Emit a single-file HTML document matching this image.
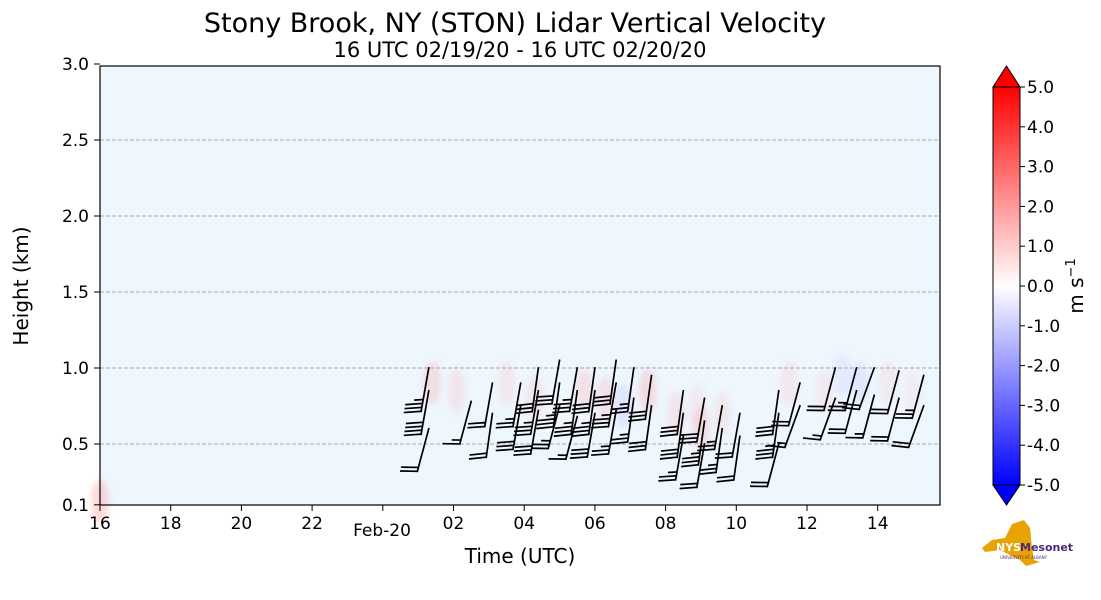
<!DOCTYPE html>
<html><head><meta charset="utf-8"><style>
html,body{margin:0;padding:0;background:#fff;}
svg{display:block;font-family:"DejaVu Sans","Liberation Sans",sans-serif;}
</style></head><body>
<svg id="chart" width="1101" height="600" viewBox="0 0 1101 600">
<defs>
<linearGradient id="cb" x1="0" y1="1" x2="0" y2="0">
<stop offset="0" stop-color="#0000ff"/><stop offset="0.5" stop-color="#ffffff"/><stop offset="1" stop-color="#ff0000"/>
</linearGradient>
<filter id="blur"><feGaussianBlur stdDeviation="3"/></filter>
</defs>
<text x="515" y="32" font-size="27" text-anchor="middle">Stony Brook, NY (STON) Lidar Vertical Velocity</text>
<text x="520" y="57" font-size="21" text-anchor="middle">16 UTC 02/19/20 - 16 UTC 02/20/20</text>
<rect x="100" y="66" width="840" height="439" fill="#eef6fe"/>
<g id="grid"></g>
<g id="cells" filter="url(#blur)"></g>
<g id="barbs" stroke="#000" stroke-width="1.7" fill="none" stroke-linecap="square"></g>
<rect x="100" y="66" width="840" height="439" fill="none" stroke="#000" stroke-width="1.2"/>
<g id="axes" font-size="17"></g>
<text x="382" y="536" font-size="17" text-anchor="middle">Feb-20</text>
<text x="520" y="563" font-size="20" text-anchor="middle">Time (UTC)</text>
<text transform="translate(28,286) rotate(-90)" font-size="20" text-anchor="middle">Height (km)</text>
<g>
<rect x="993" y="87" width="27" height="398" fill="url(#cb)"/>
<polygon points="993,87 1020,87 1006.5,66" fill="#ff0000" stroke="#000" stroke-width="1"/>
<polygon points="993,485 1020,485 1006.5,505" fill="#0000ff" stroke="#000" stroke-width="1"/>
<rect x="993" y="87" width="27" height="398" fill="none" stroke="#000" stroke-width="1"/>
</g>
<g id="cbticks" font-size="17"></g>
<text transform="translate(1083,286) rotate(-90)" font-size="20" text-anchor="middle">m s<tspan font-size="13" dy="-8">−1</tspan></text>
<g>
<polygon points="982,548 992,540 1005,538 1012,524 1024,520 1030,528 1032,548 1034,560 1040,562 1026,566 1020,560 1000,550 985,552" fill="#e8a202"/>
<text x="996" y="551" font-size="11" font-weight="bold" fill="#fff">NYS</text>
<text x="1020" y="551" font-size="11" font-weight="bold" fill="#4b2a7a">Mesonet</text>
<text x="1000" y="559" font-size="4" fill="#4b2a7a">UNIVERSITY AT ALBANY</text>
</g>
</svg>
<script>
// ---- data ----
const xTickLabels = ["16","18","20","22","","02","04","06","08","10","12","14"];
const yTickValues = [0.1,0.5,1.0,1.5,2.0,2.5,3.0];
const cbTickValues = [5,4,3,2,1,0,-1,-2,-3,-4,-5];
// barb observations: hours since 16 UTC, height km, speed kt, direction deg (from)
const obsTime   = [9.3,9.3,9.3, 10.5,11.1,11.1, 11.9,11.9,12.4,12.4,12.4, 13.0,13.0,13.0, 13.5,13.5,13.5, 14.0,14.0,14.0, 14.6,14.6,14.6, 15.1,15.1, 15.6,15.6, 16.5,16.5,16.5, 17.1,17.1,17.1, 17.6,17.6, 18.1,18.1, 19.2,19.2,19.2, 19.8,19.8, 20.8,20.8, 21.4,21.4, 21.9,21.9, 22.6,22.6, 23.3,23.3];
const obsHeight = [1.0,0.85,0.6, 0.78,0.9,0.7, 0.9,0.75,1.0,0.85,0.72, 1.05,0.9,0.75, 1.0,0.85,0.68, 1.0,0.85,0.7, 1.05,0.9,0.72, 1.0,0.8, 0.95,0.75, 0.85,0.7,0.55, 0.8,0.65,0.5, 0.75,0.6, 0.7,0.55, 0.85,0.7,0.5, 0.9,0.75, 1.0,0.8, 1.0,0.85, 1.0,0.82, 0.98,0.8, 0.95,0.75];
const obsSpeed  = [35,40,20, 15,20,20, 25,30,30,35,30, 30,35,25, 35,35,15, 30,35,30, 30,35,25, 25,25, 30,30, 30,30,25, 30,35,20, 25,25, 20,20, 30,35,20, 20,15, 20,15, 25,20, 20,15, 20,20, 25,20];
const obsDir    = [190,190,195, 195,190,188, 190,190,188,190,190, 190,188,195, 190,188,195, 188,188,190, 188,190,190, 188,188, 188,188, 188,188,190, 190,188,190, 190,188, 190,188, 188,188,195, 195,200, 195,200, 195,195, 200,195, 195,195, 195,200];
// velocity patches: time, height, value (m/s)
const cellTime   = [0.0,9.4,10.1,11.5,12.3,13.7,14.3,15.5,16.3,17.0,17.6,16.9,19.5,20.5,21.5,22.3,23.0,14.8,21.0];
const cellHeight = [0.12,0.9,0.85,0.9,0.8,0.85,0.8,0.85,0.7,0.6,0.7,0.75,0.9,0.85,0.9,0.9,0.85,0.75,0.95];
const cellValue  = [1.2,0.8,0.6,0.5,0.6,0.7,0.7,0.9,0.6,0.8,0.5,0.4,0.5,0.4,-0.5,0.4,0.3,-0.6,-0.4];
// ---- axes ----
const X0=100, PX_PER_H=35.35, Y1=368, PX_PER_KM=152;
const xs=h=>X0+h*PX_PER_H, ys=k=>Y1-(k-1)*PX_PER_KM, cbs=v=>286-v*39.8;
const NS="http://www.w3.org/2000/svg";
function mk(tag,attrs,parent){const e=document.createElementNS(NS,tag);for(const k in attrs)e.setAttribute(k,attrs[k]);parent.appendChild(e);return e;}
const grid=document.getElementById('grid'), axes=document.getElementById('axes');
yTickValues.forEach(v=>{
  const y=ys(v);
  if(v>0.1&&v<3){const l=mk('line',{x1:100,x2:940,y1:y,y2:y,stroke:'#aaa','stroke-dasharray':'4,2','stroke-width':1},grid);
  
  }
  mk('line',{x1:94,x2:100,y1:y,y2:y,stroke:'#000'},axes);
  const t=mk('text',{x:89,y:y+6,'text-anchor':'end'},axes);t.textContent=v.toFixed(1);
  
  
});
xTickLabels.forEach((s,i)=>{
  const x=xs(i*2);
  mk('line',{x1:x,x2:x,y1:505,y2:511,stroke:'#000'},axes);
  const t=mk('text',{x:x,y:529,'text-anchor':'middle'},axes);t.textContent=s;
  
  
});
const cbt=document.getElementById('cbticks');
cbTickValues.forEach(v=>{
  const y=cbs(v);
  mk('line',{x1:1020,x2:1025,y1:y,y2:y,stroke:'#000'},cbt);
  const t=mk('text',{x:1027,y:y+6},cbt);t.textContent=v.toFixed(1);
  
  
});
// ---- cells ----
const cells=document.getElementById('cells');
cellTime.forEach((h,i)=>{
  const v=cellValue[i], a=Math.min(1,Math.abs(v)/5*3);
  const c=v>0?`rgba(255,140,140,${a*0.45})`:`rgba(140,140,255,${a*0.45})`;
  const r=mk('ellipse',{cx:xs(h),cy:ys(cellHeight[i]),rx:9,ry:22,fill:c},cells);
  
  
});
// ---- barbs ----
const bg=document.getElementById('barbs');
obsTime.forEach((h,i)=>{
  const x=xs(h), y=ys(obsHeight[i]), d=obsDir[i]*Math.PI/180, L=44;
  const sx=Math.sin(d), sy=-Math.cos(d);
  const ex=x+sx*L, ey=y+sy*L;
  const px=-sy, py=sx;
  let p=`M${x},${y} L${ex},${ey}`;
  let sp=obsSpeed[i], pos=0;
  const fl=16;
  while(sp>=10){const bx=ex-sx*pos, by=ey-sy*pos;p+=` M${bx},${by} L${bx+px*fl+sx*4},${by+py*fl+sy*4}`;pos+=4;sp-=10;}
  if(sp>=5){const bx=ex-sx*pos, by=ey-sy*pos;p+=` M${bx},${by} L${bx+px*fl/2+sx*2},${by+py*fl/2+sy*2}`;}
  const b=mk('path',{d:p},bg);
  
  
});
</script>
</body></html>
